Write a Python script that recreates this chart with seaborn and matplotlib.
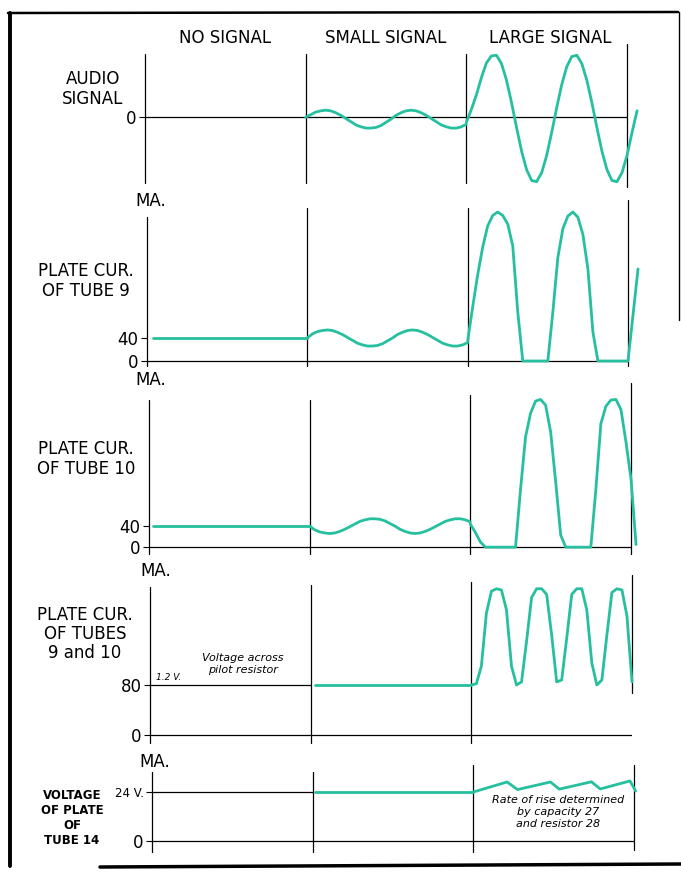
import numpy as np
import matplotlib.pyplot as plt
import seaborn as sns
from matplotlib.lines import Line2D

sns.set_style("white")
plt.rcParams['font.family'] = ['DejaVu Sans']
plt.rcParams['text.color'] = 'black'
plt.rcParams['ytick.color'] = 'black'
plt.rcParams['ytick.labelcolor'] = 'black'

TEAL = "#26bf9f"
W, H = 681, 873

# -------------------------
# Data (time in audio cycles, two cycles per condition)
# -------------------------
segment_bounds = [0, 2, 4, 6]
segment_names = ["NO SIGNAL", "SMALL SIGNAL", "LARGE SIGNAL"]

t_small = np.arange(33) / 16 + 2
t_large = np.arange(35) / 16 + 4

# audio signal (relative amplitude)
audio_small = [0.00, 0.04, 0.08, 0.10, 0.11, 0.10, 0.07, 0.03, -0.02, -0.07, -0.12,
               -0.15, -0.17, -0.17, -0.16, -0.13, -0.08, -0.03, 0.03, 0.07, 0.10,
               0.11, 0.10, 0.07, 0.03, -0.02, -0.07, -0.12, -0.15, -0.17, -0.17,
               -0.15, -0.11]
audio_large = [-0.08, 0.12, 0.35, 0.62, 0.85, 0.96, 0.97, 0.84, 0.58, 0.23, -0.16,
               -0.53, -0.82, -0.99, -1.01, -0.87, -0.60, -0.24, 0.15, 0.51, 0.79,
               0.95, 0.97, 0.84, 0.58, 0.23, -0.16, -0.53, -0.82, -0.99, -1.01,
               -0.87, -0.60, -0.24, 0.10]

# plate current of tube 9 (mA)
tube9_idle_t = [0.075, 2.0]
tube9_idle = [40, 40]
tube9_small = [40, 47, 51, 53, 54, 53, 50, 46, 41, 36, 31, 28, 26, 26, 27, 30, 35,
               40, 46, 50, 53, 54, 53, 50, 46, 41, 36, 31, 28, 26, 26, 28, 32]
tube9_large = [35, 94, 150, 198, 235, 253, 259, 253, 238, 200, 85, 0, 0, 0, 0, 0, 0,
               85, 180, 230, 252, 259, 250, 220, 160, 50, 0, 0, 0, 0, 0, 0, 0, 80, 160]

# plate current of tube 10 (mA)
tube10_idle_t = [0.05, 2.0]
tube10_idle = [40, 40]
tube10_small = [40, 33, 29, 27, 26, 27, 30, 34, 39, 44, 49, 52, 54, 54, 53, 50, 45,
                40, 34, 30, 27, 26, 27, 30, 34, 39, 44, 49, 52, 54, 54, 52, 48]
tube10_large = [44, 28, 10, 0, 0, 0, 0, 0, 0, 0, 110, 210, 255, 278, 281, 270, 219,
                124, 23, 0, 0, 0, 0, 0, 0, 110, 235, 268, 280, 281, 262, 200, 130, 5]

# plate current of tubes 9 and 10 (mA)
both_idle_t = [0.0, 2.0]
both_idle = [80, 80]
both_small_t = [2.06, 4.0]
both_small = [80, 80]
both_large = [80, 82, 110, 195, 230, 234, 232, 200, 110, 80, 85, 150, 220, 234, 234,
              225, 160, 85, 88, 155, 225, 234, 234, 200, 115, 80, 88, 160, 228, 234,
              232, 190, 85]

# voltage of plate of tube 14 (V)
v14_idle_t = [0.0, 2.0]
v14_idle = [24, 24]
v14_small_t = [2.03, 4.0]
v14_small = [24, 24]
v14_large_t = [4.0, 4.42, 4.55, 4.96, 5.07, 5.47, 5.58, 5.95, 6.02]
v14_large = [24, 28.9, 25.2, 28.9, 25.4, 29.0, 25.5, 29.4, 24.5]


def fx(x):
    return x / W


def fy(y):
    return 1 - y / H


fig = plt.figure(figsize=(6.81, 8.73), dpi=100)


def panel(left, right, top, bottom, ylim, ticks, labels):
    ax = fig.add_axes([fx(left), fy(bottom), (right - left) / W, (bottom - top) / H])
    ax.set_xlim(0, 6)
    ax.set_ylim(*ylim)
    ax.set_xticks([])
    ax.set_yticks(ticks)
    ax.set_yticklabels(labels)
    ax.tick_params(axis='y', direction='out', length=4, width=0.8, color='black',
                   labelcolor='black', labelsize=12, pad=2, left=True)
    for s in ax.spines.values():
        s.set_visible(False)
    ax.patch.set_alpha(0)
    ax.axhline(0, color='black', lw=0.9, zorder=1)
    return ax


def dividers(ax, extents):
    for b, (lo, hi) in zip(segment_bounds, extents):
        ax.axvline(b, ymin=lo, ymax=hi, color='black', lw=0.9, clip_on=False, zorder=1)


def curve(ax, x, y, color=TEAL, lw=2.0):
    sns.lineplot(x=x, y=y, ax=ax, color=color, lw=lw, clip_on=False, zorder=3,
                 solid_joinstyle='round', solid_capstyle='round')


# -------------------------
# Panel 1: audio signal
# -------------------------
ax1 = panel(145, 627, 54, 183, (-1.03, 0.99), [0], ["0"])
dividers(ax1, [(0, 1), (0, 1), (0, 1), (-0.03, 1.08)])
curve(ax1, t_small, audio_small)
curve(ax1, t_large, audio_large)
for i, name in enumerate(segment_names):
    c = (segment_bounds[i] + segment_bounds[i + 1]) / 2
    ax1.text(c + (0.05 if i == 2 else 0), 1.24, name, ha='center', va='center',
             fontsize=12)

# -------------------------
# Panel 2: plate current tube 9
# -------------------------
ax2 = panel(147, 628, 208, 366, (-8.7, 266), [0, 40], ["0", "40"])
dividers(ax2, [(0, 0.94), (0, 1), (0, 1), (0, 1.05)])
curve(ax2, tube9_idle_t, tube9_idle)
curve(ax2, t_small, tube9_small)
curve(ax2, t_large, tube9_large)

# -------------------------
# Panel 3: plate current tube 10
# -------------------------
ax3 = panel(149, 631, 400, 554, (-13, 280), [0, 40], ["0", "40"])
dividers(ax3, [(0, 1), (0, 1), (0, 1.03), (0, 1.11)])
curve(ax3, tube10_idle_t, tube10_idle)
curve(ax3, t_small, tube10_small)
curve(ax3, t_large[:len(tube10_large)], tube10_large)

# -------------------------
# Panel 4: plate current tubes 9 and 10
# -------------------------
ax4 = panel(150, 632, 587, 743, (-12.8, 236.8), [0, 80], ["0", "80"])
dividers(ax4, [(0, 1), (0, 1.01), (0, 1.03), (0.32, 1.077)])
curve(ax4, both_idle_t, both_idle, color='black', lw=0.9)
curve(ax4, both_small_t, both_small)
curve(ax4, t_large[:len(both_large)], both_large)
ax4.text(0.07, 84, "1.2 V.", fontsize=6.5, style='italic', ha='left', va='bottom')
ax4.text(1.16, 96, "Voltage across\npilot resistor", fontsize=8, style='italic',
         ha='center', va='bottom', linespacing=1.25)

# -------------------------
# Panel 5: voltage of plate of tube 14
# -------------------------
ax5 = panel(152, 634, 772, 852, (-5.4, 33.8), [0, 24], ["0", "24 V."])
dividers(ax5, [(0, 1), (0, 1), (0, 1.09), (0.02, 1.09)])
ax5.get_yticklabels()[1].set_fontsize(8.5)
curve(ax5, v14_idle_t, v14_idle, color='black', lw=0.9)
curve(ax5, v14_small_t, v14_small)
curve(ax5, v14_large_t, v14_large)
ax5.text(5.05, 22.5, "Rate of rise determined\nby capacity 27\nand resistor 28",
         fontsize=8, style='italic', ha='center', va='top', linespacing=1.25)

# -------------------------
# Row labels and units
# -------------------------
fig.text(fx(93), fy(89), "AUDIO\nSIGNAL", ha='center', va='center', fontsize=12,
         linespacing=1.1)
fig.text(fx(86), fy(281), "PLATE CUR.\nOF TUBE 9", ha='center', va='center',
         fontsize=12, linespacing=1.1)
fig.text(fx(86), fy(459), "PLATE CUR.\nOF TUBE 10", ha='center', va='center',
         fontsize=12, linespacing=1.1)
fig.text(fx(85), fy(634), "PLATE CUR.\nOF TUBES\n9 and 10", ha='center', va='center',
         fontsize=12, linespacing=1.1)
fig.text(fx(72), fy(818), "VOLTAGE\nOF PLATE\nOF\nTUBE 14", ha='center', va='center',
         fontsize=8.5, fontweight='bold', linespacing=1.2)

for x, y in [(151, 201), (151, 380), (156, 571), (155, 762)]:
    fig.text(fx(x), fy(y), "MA.", ha='center', va='center', fontsize=12)

# frame
for (x0, y0, x1, y1, lw) in [(10, 13, 10, 866, 2.8), (8, 13, 678, 12, 1.8),
                             (679, 12, 679, 320, 1.0), (100, 867, 681, 864, 2.5)]:
    fig.add_artist(Line2D([fx(x0), fx(x1)], [fy(y0), fy(y1)],
                          transform=fig.transFigure, color='black', lw=lw))

plt.savefig("out.png", dpi=100)
